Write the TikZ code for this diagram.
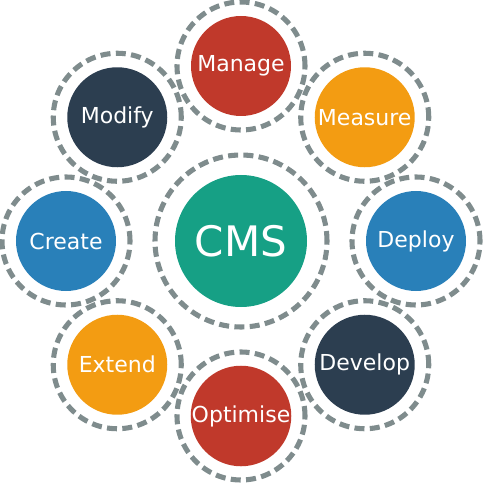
\documentclass[tikz,border=0pt]{standalone}
\usepackage{fontspec}
\setmainfont{DejaVu Sans}
\definecolor{cmsgreen}{HTML}{16A085}
\definecolor{cmsred}{HTML}{C0392B}
\definecolor{cmsorange}{HTML}{F39C12}
\definecolor{cmsblue}{HTML}{2980B9}
\definecolor{cmsdark}{HTML}{2C3E50}
\definecolor{ringgray}{HTML}{7F8C8D}
\tikzset{
  ring/.style={draw=ringgray, line width=3.8pt, dash pattern=on 7.5pt off 4pt},
  petal/.style={circle, minimum size=75pt, inner sep=0pt, text=white,
    font=\fontsize{16.5}{18}\selectfont},
  hub/.style={circle, fill=cmsgreen, minimum size=99pt, inner sep=0pt, text=white,
    font=\fontsize{31.5}{34}\selectfont}
}
\begin{document}
\begin{tikzpicture}[x=0.75pt,y=0.75pt]
		\useasboundingbox (-241,-244) rectangle (241,241);
		% centre
		\node[hub] (cms) at (0,0) {CMS};
		\draw[ring] (cms.center) circle (64.5pt);
		% outer ring of tasks
		\foreach \a/\name/\col in {90/Manage/cmsred, 45/Measure/cmsorange, 0/Deploy/cmsblue,
			-45/Develop/cmsdark, -90/Optimise/cmsred, -135/Extend/cmsorange,
			180/Create/cmsblue, 135/Modify/cmsdark}
		{
			\node[petal, fill=\col] (\name) at (\a:175) {\name};
			\draw[ring] (\name.center) circle (48pt);
		}
	\end{tikzpicture}
\end{document}
